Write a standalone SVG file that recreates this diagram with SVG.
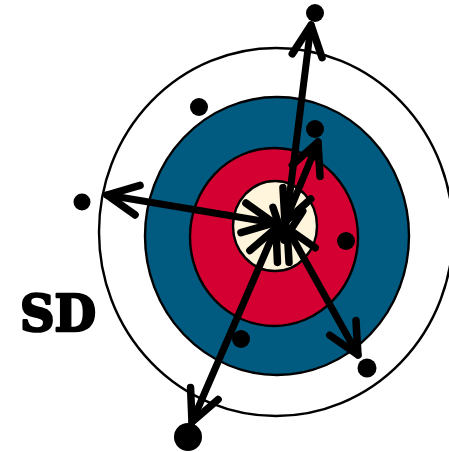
<svg xmlns="http://www.w3.org/2000/svg" width="449" height="452" viewBox="0 0 449 452">
<style>
.ring{stroke:#000;stroke-width:2.4}
.dot{fill:#000}
.arr{fill:none;stroke:#000;stroke-width:7;stroke-linecap:round}
.head{fill:none;stroke:#000;stroke-width:7.5;stroke-linecap:round;stroke-linejoin:round}
.lbl{font-family:"DejaVu Serif","Liberation Serif",serif;font-weight:bold;font-size:50px;fill:#000;stroke:#000;stroke-width:2.6;stroke-linejoin:round}
</style>
<defs>
<marker id="chev" markerUnits="userSpaceOnUse" viewBox="-40 -20 50 40" refX="0" refY="0" markerWidth="50" markerHeight="40" orient="auto-start-reverse" overflow="visible">
<path class="head" d="M-31,-15 L0,0 L-31,15"/>
</marker>
</defs>
<rect width="449" height="452" fill="#fff"/>
<g id="target">
<ellipse id="outer" class="ring" cx="276" cy="232" rx="177" ry="184" fill="#fff"/>
<ellipse id="blue" class="ring" cx="277" cy="236" rx="132" ry="139" fill="#015a80"/>
<ellipse id="red" class="ring" cx="274" cy="237" rx="84" ry="89" fill="#d50032"/>
<ellipse id="bull" class="ring" cx="275" cy="226" rx="42" ry="45" fill="#fff5dc"/>
</g>
<g id="points">
<circle id="p1" class="dot" cx="315" cy="13" r="9"/>
<circle id="p2" class="dot" cx="315" cy="129" r="9"/>
<circle id="p3" class="dot" cx="82" cy="202" r="8.5"/>
<circle id="p4" class="dot" cx="367" cy="368" r="9.5"/>
<circle id="p5" class="dot" cx="188" cy="437" r="14"/>
<circle id="p6" class="dot" cx="199" cy="107" r="9"/>
<circle id="p7" class="dot" cx="346" cy="241" r="9"/>
<circle id="p8" class="dot" cx="241" cy="339" r="9"/>
</g>
<g id="connectors">
<line class="arr" x1="284" y1="240" x2="311" y2="25" marker-start="url(#chev)" marker-end="url(#chev)"/>
<line class="arr" x1="285" y1="222" x2="318" y2="142" marker-start="url(#chev)" marker-end="url(#chev)"/>
<line class="arr" x1="274" y1="223" x2="107" y2="195" marker-start="url(#chev)" marker-end="url(#chev)"/>
<line class="arr" x1="287" y1="228" x2="358" y2="355" marker-start="url(#chev)" marker-end="url(#chev)"/>
<line class="arr" x1="276" y1="228" x2="192" y2="422" marker-start="url(#chev)" marker-end="url(#chev)"/>
</g>
<g id="label">
<text class="lbl" x="20" y="331" textLength="76" lengthAdjust="spacingAndGlyphs">SD</text>
</g>
</svg>
